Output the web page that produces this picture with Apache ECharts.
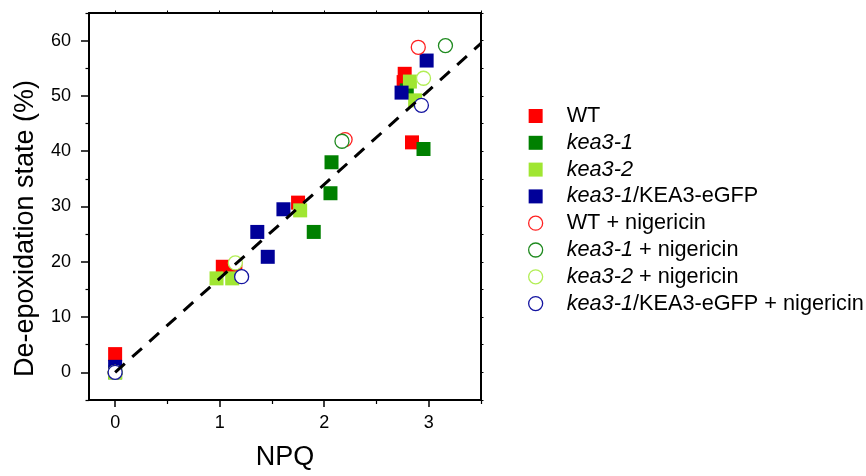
<!DOCTYPE html>
<html>
<head>
<meta charset="utf-8">
<script src="https://cdn.jsdelivr.net/npm/echarts@6/dist/echarts.min.js"></script>
<style>
html,body{margin:0;padding:0;background:#fff;}
#chart{width:866px;height:476px;}
</style>
</head>
<body>
<div id="chart"></div>
<script>
// ---- data (NPQ, de-epoxidation state %) ----
const wt            = [[0, 3.3], [1.03, 19.1], [1.15, 18.8], [1.75, 30.7], [2.76, 52.5], [2.77, 54.0], [2.84, 41.6]];
const kea31         = [[0, 0], [1.90, 25.4], [2.06, 32.4], [2.07, 38.0], [2.79, 51.0], [2.95, 40.4]];
const kea32         = [[0, 0], [0.97, 17.0], [1.12, 17.0], [1.77, 29.3], [2.82, 52.6], [2.87, 49.2]];
const kea31Gfp      = [[0, 1.0], [1.36, 25.4], [1.46, 20.9], [1.61, 29.5], [2.74, 50.6], [2.98, 56.4]];
const wtNig         = [[0, 0], [2.20, 42.1], [2.90, 58.8]];
const kea31Nig      = [[0, 0], [2.17, 41.8], [3.16, 59.1]];
const kea32Nig      = [[0, 0], [1.15, 19.8], [2.95, 53.2]];
const kea31GfpNig   = [[0, 0], [1.21, 17.3], [2.93, 48.3]];
const fitLine       = [[0, 0], [3.5, 59.5]];

const seriesNames = ['WT', 'kea3-1', 'kea3-2', 'kea3-1/KEA3-eGFP',
  'WT + nigericin', 'kea3-1 + nigericin', 'kea3-2 + nigericin', 'kea3-1/KEA3-eGFP + nigericin'];
const xMajorTicks = [0, 1, 2, 3];
const xMinorTicks = [0.5, 1.5, 2.5, 3.5];
const yMajorTicks = [0, 10, 20, 30, 40, 50, 60];
const yMinorTicks = [-5, 5, 15, 25, 35, 45, 55, 65];

const fillColors = ['#ff0000', '#008000', '#a0e632', '#000099'];
const strokeColors = ['#ff2020', '#1f8a1f', '#b2ee55', '#1414a0'];

const FONT = 'Liberation Sans, Arial, sans-serif';
const squareSets = [wt, kea31, kea32, kea31Gfp];
const circleSets = [wtNig, kea31Nig, kea32Nig, kea31GfpNig];

const series = [];
squareSets.forEach((d, i) => {
  series.push({
    name: seriesNames[i], type: 'scatter', data: d, symbol: 'rect', symbolSize: 14,
    itemStyle: { color: fillColors[i], opacity: 1 }, z: 2, silent: true
  });
});
circleSets.forEach((d, i) => {
  series.push({
    name: seriesNames[i + 4], type: 'scatter', data: d, symbol: 'circle', symbolSize: 14,
    itemStyle: { color: '#ffffff', borderColor: strokeColors[i], borderWidth: 1.3, opacity: 1 }, z: 3, silent: true
  });
});
series.push({
  name: 'fit', type: 'line', data: fitLine, symbol: 'none', z: 5, silent: true,
  lineStyle: { color: '#000', width: 3, type: [13, 10] }
});

const legendData = seriesNames.map((n, i) => i < 4
  ? { name: n, icon: 'rect', itemStyle: { color: fillColors[i], borderWidth: 0 } }
  : { name: n, icon: 'circle', itemStyle: { color: '#fff', borderColor: strokeColors[i - 4], borderWidth: 1.3 } });

const axisLineStyle = { color: '#000', width: 2 };
function xAxisBase(extra) {
  return Object.assign({
    type: 'value', min: -0.25, max: 3.5, gridIndex: 0,
    splitLine: { show: false },
    axisLine: { show: true, onZero: false, lineStyle: axisLineStyle },
    axisLabel: { show: false }
  }, extra);
}
function yAxisBase(extra) {
  return Object.assign({
    type: 'value', min: -5, max: 65, gridIndex: 0,
    splitLine: { show: false },
    axisLine: { show: true, onZero: false, lineStyle: axisLineStyle },
    axisLabel: { show: false }
  }, extra);
}

const option = {
  animation: false,
  backgroundColor: '#fff',
  grid: { left: 89, right: 385, top: 13, bottom: 74, containLabel: false },
  legend: {
    orient: 'vertical', left: 528, top: 105, padding: 0,
    itemWidth: 14, itemHeight: 14, itemGap: 4.8,
    data: legendData,
    formatter: n => n.replace(/kea3-\d/g, m => '{i|' + m + '}'),
    textStyle: {
      fontFamily: FONT, fontSize: 21.7, color: '#000', lineHeight: 22, padding: [0, 0, 0, 19],
      rich: { i: { fontFamily: FONT, fontSize: 21.7, fontStyle: 'italic', color: '#000', lineHeight: 22 } }
    },
    selectedMode: false
  },
  xAxis: [
    xAxisBase({
      position: 'bottom',
      axisTick: { show: true, customValues: xMajorTicks, length: 7, lineStyle: { color: '#000', width: 1.5 } },
      axisLabel: { show: true, customValues: xMajorTicks, fontSize: 18, fontFamily: FONT, color: '#000', margin: 14 },
      name: 'NPQ', nameLocation: 'middle', nameGap: 44,
      nameTextStyle: { fontSize: 27, fontFamily: FONT, color: '#000' }
    }),
    xAxisBase({
      position: 'bottom', axisLine: { show: false, onZero: false },
      axisTick: { show: true, customValues: xMinorTicks, length: 4, lineStyle: { color: '#000', width: 1.2 } }
    }),
    xAxisBase({
      position: 'top',
      axisTick: { show: true, customValues: xMajorTicks.concat(xMinorTicks), length: 2.5, lineStyle: { color: '#000', width: 1 } }
    })
  ],
  yAxis: [
    yAxisBase({
      position: 'left',
      axisTick: { show: true, customValues: yMajorTicks, length: 8, lineStyle: { color: '#000', width: 1.5 } },
      axisLabel: { show: true, customValues: yMajorTicks, fontSize: 18, fontFamily: FONT, color: '#000', margin: 18 },
      name: 'De-epoxidation state (%)', nameLocation: 'middle', nameGap: 50,
      nameTextStyle: { fontSize: 27, fontFamily: FONT, color: '#000', padding: [0, 44, 0, 0] }
    }),
    yAxisBase({
      position: 'left', axisLine: { show: false, onZero: false },
      axisTick: { show: true, customValues: yMinorTicks, length: 3.5, lineStyle: { color: '#000', width: 1.2 } }
    }),
    yAxisBase({
      position: 'right',
      axisTick: { show: true, customValues: yMajorTicks.concat(yMinorTicks), length: 2.5, lineStyle: { color: '#000', width: 1 } }
    })
  ],
  series: series
};

const chart = echarts.init(document.getElementById('chart'), null, { renderer: 'canvas' });
chart.setOption(option);
</script>
</body>
</html>
